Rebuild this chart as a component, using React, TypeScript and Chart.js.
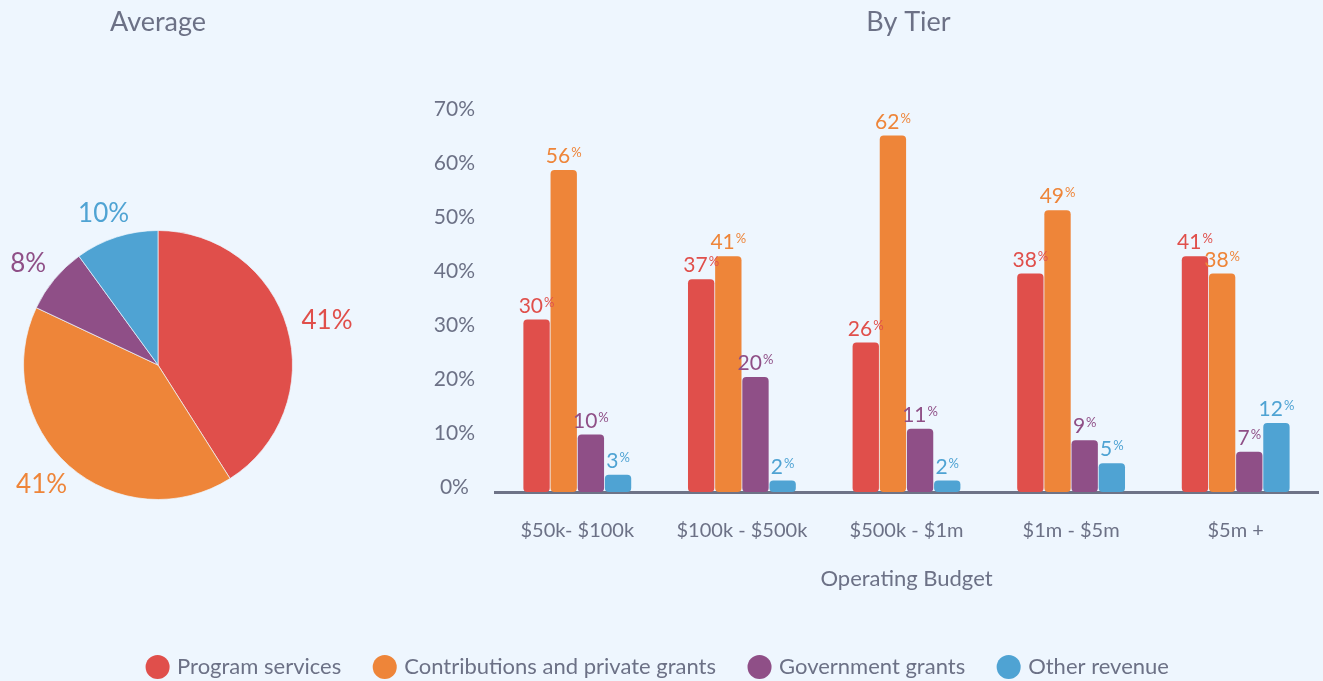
import React, { useEffect, useRef } from 'react';
import { Chart, registerables } from 'chart.js';

Chart.register(...registerables);

// ---------- data ----------
const categories = ['$50k- $100k', '$100k - $500k', '$500k - $1m', '$1m - $5m', '$5m +'];
const seriesNames = ['Program services', 'Contributions and private grants', 'Government grants', 'Other revenue'];
const programServices = [30, 37, 26, 38, 41];
const contributions = [56, 41, 62, 49, 38];
const governmentGrants = [10, 20, 11, 9, 7];
const otherRevenue = [3, 2, 2, 5, 12];
const averageShares = [41, 41, 8, 10];
const yTickMax = 70;
const yTickStep = 10;
const pieTitle = 'Average';
const barTitle = 'By Tier';
const xAxisTitle = 'Operating Budget';

// ---------- style ----------
const W = 1323;
const H = 681;
const CANVAS_H = 688;
const BG = '#EEF6FE';
const TEXT = '#6C7186';
const AXIS = '#6E7387';
const FONT = 'Lato, "Open Sans", sans-serif';
const COLORS = ['#E04F4B', '#EE8539', '#8F4F87', '#4FA3D3'];

const PIE_W = 400;
const PIE_H = 540;

const BAR_TOP = 60;
const BAR_BOTTOM = 492;
const PX_PER_PCT_BARS = 5.75;
const PX_PER_PCT_TICKS = 5.4;

const pctLabelPlugin = {
  id: 'pctLabels',
  afterDatasetsDraw(chart: any) {
    const ctx = chart.ctx;
    chart.data.datasets.forEach((ds: any, i: number) => {
      const meta = chart.getDatasetMeta(i);
      meta.data.forEach((el: any, j: number) => {
        const num = String(ds.data[j]);
        ctx.save();
        ctx.font = `21px ${FONT}`;
        const w1 = ctx.measureText(num).width;
        ctx.font = `13px ${FONT}`;
        const w2 = ctx.measureText('%').width;
        const total = w1 + 1 + w2;
        const x0 = el.x - total / 2;
        const yb = el.y - 7;
        ctx.fillStyle = ds.backgroundColor;
        ctx.textAlign = 'left';
        ctx.textBaseline = 'alphabetic';
        ctx.font = `21px ${FONT}`;
        ctx.fillText(num, x0, yb);
        ctx.font = `13px ${FONT}`;
        ctx.fillText('%', x0 + w1 + 1, yb - 6);
        ctx.restore();
      });
    });
  },
};

const barTitlePlugin = {
  id: 'barTitle',
  afterDraw(chart: any) {
    const { ctx, chartArea } = chart;
    ctx.save();
    ctx.font = `27px ${FONT}`;
    ctx.fillStyle = TEXT;
    ctx.textAlign = 'center';
    ctx.textBaseline = 'middle';
    ctx.fillText(barTitle, (chartArea.left + chartArea.right) / 2 + 2, 22);
    ctx.restore();
  },
};

const pieLabelsPlugin = {
  id: 'pieLabels',
  afterDraw(chart: any) {
    const { ctx, chartArea } = chart;
    const meta = chart.getDatasetMeta(0);
    const ds = chart.data.datasets[0];
    ctx.save();
    ctx.font = `26px ${FONT}`;
    ctx.textAlign = 'center';
    ctx.textBaseline = 'middle';
    meta.data.forEach((arc: any, i: number) => {
      const mid = (arc.startAngle + arc.endAngle) / 2;
      const r = arc.outerRadius + 16;
      const text = ds.data[i] + '%';
      const halfW = ctx.measureText(text).width / 2;
      const cx = arc.x + Math.cos(mid) * r + Math.cos(mid) * halfW;
      const cy = arc.y + Math.sin(mid) * r + Math.sin(mid) * 9;
      ctx.fillStyle = ds.backgroundColor[i];
      ctx.fillText(text, cx, cy);
    });
    ctx.fillStyle = TEXT;
    ctx.font = `27px ${FONT}`;
    ctx.fillText(pieTitle, (chartArea.left + chartArea.right) / 2, 22);
    ctx.restore();
  },
};

export default function App() {
  const barRef = useRef<HTMLCanvasElement>(null);
  const pieRef = useRef<HTMLCanvasElement>(null);

  useEffect(() => {
    const seriesValues = [programServices, contributions, governmentGrants, otherRevenue];
    const bar = new Chart(barRef.current as HTMLCanvasElement, {
      type: 'bar',
      data: {
        labels: categories,
        datasets: seriesNames.map((name, i) => ({
          label: name,
          data: seriesValues[i],
          backgroundColor: COLORS[i],
          borderWidth: 0,
          borderRadius: 4,
          borderSkipped: false,
          barPercentage: 0.97,
          categoryPercentage: 0.66,
          yAxisID: 'y',
        })),
      },
      options: {
        responsive: false,
        animation: false,
        layout: { padding: { top: BAR_TOP, right: 5, bottom: 0, left: 0 } },
        plugins: {
          legend: {
            position: 'bottom',
            labels: {
              usePointStyle: true,
              pointStyle: 'circle',
              boxWidth: 17,
              boxHeight: 17,
              padding: 35,
              color: TEXT,
              font: { size: 22, family: FONT },
            },
          },
          tooltip: { enabled: false },
        },
        scales: {
          x: {
            grid: { display: false, drawTicks: false },
            border: { display: true, color: AXIS, width: 3 },
            ticks: { color: TEXT, font: { size: 20, family: FONT }, padding: 27 },
            title: {
              display: true,
              text: xAxisTitle,
              color: TEXT,
              font: { size: 22, family: FONT },
              padding: { top: 0, bottom: 29 },
            },
            afterFit: (s: any) => {
              s.height = 129;
            },
          },
          y: {
            display: false,
            min: 0,
            max: (BAR_BOTTOM - BAR_TOP) / PX_PER_PCT_BARS,
          },
          yt: {
            position: 'left',
            min: 0,
            max: (BAR_BOTTOM - BAR_TOP) / PX_PER_PCT_TICKS,
            grid: { display: false, drawTicks: false },
            border: { display: false },
            ticks: {
              stepSize: yTickStep,
              includeBounds: false,
              labelOffset: -5,
              padding: 20,
              crossAlign: 'center',
              color: TEXT,
              font: { size: 21, family: FONT },
              callback: (v: any) => (Number(v) <= yTickMax ? v + '%' : ''),
            },
            afterFit: (s: any) => {
              s.width = 495;
            },
          },
        },
      } as any,
      plugins: [pctLabelPlugin, barTitlePlugin],
    });

    const pie = new Chart(pieRef.current as HTMLCanvasElement, {
      type: 'pie',
      data: {
        labels: seriesNames,
        datasets: [
          {
            data: averageShares,
            backgroundColor: COLORS,
            borderColor: 'rgba(238,246,254,0.7)',
            borderWidth: 1,
          },
        ],
      },
      options: {
        responsive: false,
        animation: false,
        layout: { padding: { top: 230, left: 23, right: PIE_W - 293, bottom: PIE_H - 500 } },
        plugins: { legend: { display: false }, tooltip: { enabled: false } },
      } as any,
      plugins: [pieLabelsPlugin],
    });

    return () => {
      bar.destroy();
      pie.destroy();
    };
  }, []);

  return (
    <div style={{ position: 'fixed', left: 0, top: 0, width: W, height: H, background: BG, overflow: 'hidden' }}>
      <canvas ref={barRef} width={W} height={CANVAS_H} style={{ position: 'absolute', left: 0, top: 0, display: 'block' }} />
      <canvas ref={pieRef} width={PIE_W} height={PIE_H} style={{ position: 'absolute', left: 0, top: 0, display: 'block' }} />
    </div>
  );
}
